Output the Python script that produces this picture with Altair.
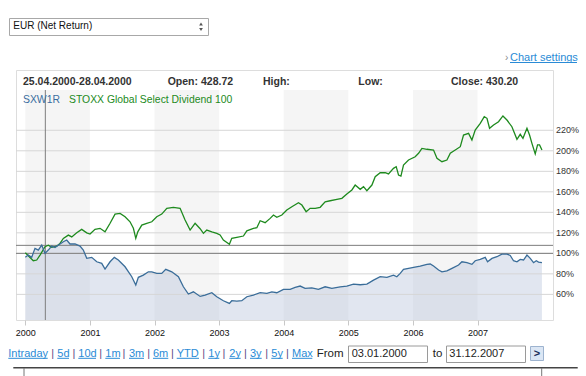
import altair as alt
import pandas as pd

FONT = "Liberation Sans"

# ---------------- data ----------------
green_t = [2000.0, 2000.073, 2000.124, 2000.177, 2000.228, 2000.305, 2000.356, 2000.409, 2000.486, 2000.537,
           2000.589, 2000.666, 2000.719, 2000.796, 2000.873, 2000.951, 2001.002, 2001.079, 2001.157, 2001.234,
           2001.312, 2001.389, 2001.467, 2001.544, 2001.621, 2001.673, 2001.710, 2001.741, 2001.803, 2001.880,
           2001.958, 2002.035, 2002.112, 2002.190, 2002.292, 2002.396, 2002.473, 2002.551, 2002.628, 2002.706,
           2002.757, 2002.809, 2002.887, 2002.964, 2003.015, 2003.066, 2003.159, 2003.196, 2003.274, 2003.376,
           2003.429, 2003.531, 2003.584, 2003.635, 2003.712, 2003.790, 2003.841, 2003.893, 2003.971, 2004.048,
           2004.126, 2004.228, 2004.281, 2004.347, 2004.409, 2004.487, 2004.564, 2004.641, 2004.719, 2004.823,
           2004.900, 2004.977, 2005.055, 2005.106, 2005.184, 2005.235, 2005.287, 2005.365, 2005.416, 2005.493,
           2005.571, 2005.622, 2005.699, 2005.741, 2005.777, 2005.814, 2005.854, 2005.932, 2006.035, 2006.087,
           2006.139, 2006.217, 2006.319, 2006.372, 2006.449, 2006.526, 2006.578, 2006.655, 2006.733, 2006.783,
           2006.861, 2006.913, 2006.964, 2007.042, 2007.104, 2007.146, 2007.186, 2007.248, 2007.325, 2007.393,
           2007.455, 2007.532, 2007.610, 2007.661, 2007.703, 2007.765, 2007.805, 2007.842, 2007.893, 2007.929,
           2007.960, 2007.997]
green_v = [100.6, 96.0, 92.8, 93.5, 98.3, 106.4, 108.0, 105.8, 107.0, 109.7,
           114.6, 117.8, 116.0, 120.0, 123.4, 120.0, 118.8, 123.4, 124.4, 121.0,
           129.3, 138.3, 139.0, 135.7, 130.8, 124.4, 114.6, 121.0, 127.6, 129.3,
           130.8, 135.7, 138.3, 143.9, 144.9, 143.9, 132.5, 122.7, 129.3, 124.0,
           119.5, 122.7, 121.0, 119.5, 117.9, 113.0, 108.8, 114.6, 115.6, 116.9,
           122.0, 124.4, 125.0, 131.8, 129.9, 134.1, 137.4, 135.1, 137.4, 142.2,
           145.5, 149.4, 147.1, 140.6, 143.9, 143.9, 144.9, 150.3, 151.3, 152.7,
           153.7, 157.9, 161.8, 166.6, 162.4, 165.0, 161.1, 166.6, 174.7, 178.6,
           178.6, 177.4, 182.9, 184.5, 176.4, 175.4, 186.1, 191.0, 194.2, 197.6,
           202.4, 201.5, 200.8, 192.7, 189.4, 191.0, 197.6, 200.8, 204.0, 215.4,
           217.0, 210.5, 220.3, 226.8, 233.3, 231.7, 222.0, 225.2, 228.4, 234.0,
           230.0, 223.5, 211.2, 216.1, 212.2, 222.0, 215.4, 207.3, 196.9, 205.7,
           205.7, 200.8]

blue_t = [2000.0, 2000.046, 2000.099, 2000.150, 2000.201, 2000.254, 2000.305, 2000.356, 2000.409, 2000.460,
          2000.537, 2000.589, 2000.641, 2000.692, 2000.770, 2000.847, 2000.898, 2000.951, 2001.028, 2001.106,
          2001.183, 2001.234, 2001.312, 2001.378, 2001.440, 2001.544, 2001.648, 2001.710, 2001.750, 2001.827,
          2001.905, 2001.958, 2002.035, 2002.112, 2002.174, 2002.267, 2002.370, 2002.447, 2002.524, 2002.602,
          2002.706, 2002.783, 2002.887, 2002.964, 2003.066, 2003.159, 2003.196, 2003.274, 2003.351, 2003.429,
          2003.531, 2003.635, 2003.739, 2003.816, 2003.893, 2003.996, 2004.099, 2004.177, 2004.254, 2004.331,
          2004.435, 2004.537, 2004.641, 2004.745, 2004.874, 2004.977, 2005.080, 2005.184, 2005.287, 2005.390,
          2005.493, 2005.597, 2005.699, 2005.751, 2005.803, 2005.854, 2005.932, 2006.010, 2006.113, 2006.217,
          2006.268, 2006.319, 2006.397, 2006.449, 2006.526, 2006.604, 2006.706, 2006.758, 2006.836, 2006.913,
          2006.964, 2007.042, 2007.119, 2007.155, 2007.223, 2007.300, 2007.378, 2007.455, 2007.506, 2007.557,
          2007.610, 2007.661, 2007.712, 2007.765, 2007.816, 2007.867, 2007.909, 2007.944, 2007.997]
blue_v = [96.1, 98.3, 96.1, 104.9, 103.2, 108.1, 100.0, 103.2, 107.1, 105.8,
          109.1, 111.3, 113.0, 109.1, 109.1, 107.1, 103.2, 95.1, 96.1, 91.8,
          90.2, 84.7, 91.8, 96.1, 93.5, 86.9, 77.2, 69.1, 76.6, 78.8,
          82.0, 82.0, 80.5, 80.5, 84.4, 82.0, 77.2, 67.4, 60.3, 62.5,
          58.0, 59.3, 61.6, 57.7, 53.8, 51.2, 53.8, 53.5, 53.8, 57.7,
          59.3, 61.6, 61.0, 62.5, 61.6, 64.9, 64.9, 66.8, 68.1, 65.9,
          66.4, 64.9, 67.4, 65.9, 67.4, 68.1, 70.0, 69.4, 70.0, 73.9,
          77.2, 76.6, 78.8, 77.2, 80.5, 84.4, 85.4, 86.3, 87.6, 89.3,
          89.6, 87.6, 83.7, 82.0, 83.0, 85.4, 88.6, 91.8, 90.9, 89.3,
          92.8, 94.1, 96.1, 91.8, 95.1, 96.7, 99.3, 99.3, 98.0, 92.8,
          91.8, 94.1, 93.5, 98.3, 95.1, 90.9, 92.8, 91.5, 90.9]

year_ticks = [2000, 2001, 2002, 2003, 2004, 2005, 2006, 2007]
band_start = [2000, 2002, 2004, 2006]
band_end = [2001, 2003, 2005, 2007]
pct_ticks = [60, 80, 100, 120, 140, 160, 180, 200, 220]
pct_labels = ["60%", "80%", "100%", "120%", "140%", "160%", "180%", "200%", "220%"]
cross_t = 2000.31
cross_v = 107.8

header_labels = ["25.04.2000-28.04.2000", "Open: 428.72", "High:", "Low:", "Close: 430.20"]
legend_labels = ["SXW1R", "STOXX Global Select Dividend 100"]
link_labels = ["Intraday", "5d", "10d", "1m", "3m", "6m", "YTD", "1y", "2y", "3y", "5y", "Max"]
from_date = "03.01.2000"
to_date = "31.12.2007"

# ---------------- layout (pixels, relative to plot origin) ----------------
W, H = 537, 250
TOP_BAND = 20
header_x = [7, 151.7, 247, 342.3, 435]
link_x0 = [-7.7, 41.3, 62.3, 89.3, 113, 137, 160.7, 192.3, 213.3, 234, 255.3, 276]
link_x1 = [31.7, 53, 80, 104, 128, 152.3, 183, 203.3, 224.7, 245.7, 266.7, 296.3]
sep_x = [36.7, 58, 84.7, 108, 132.7, 156.3, 187.7, 208, 229.3, 250.7, 271.3]

LINK = "#2a8bd6"

x_scale = alt.Scale(domain=[1999.856, 2008.168], nice=False, zero=False)
y_scale = alt.Scale(domain=[35, 278.8], nice=False, zero=False)

green = pd.DataFrame({"t": green_t, "v": green_v})
blue = pd.DataFrame({"t": blue_t, "v": blue_v})
bands = pd.DataFrame({"t": band_start, "t2": band_end})
grid = pd.DataFrame({"v": pct_ticks, "lab": pct_labels})

x_axis = alt.Axis(values=year_ticks, format="d", title=None, grid=False, domain=False,
                  tickColor="#c8c8c8", tickSize=5, labelFontSize=9, labelColor="#111",
                  labelPadding=3, labelFont=FONT, labelOverlap=False)
y_axis = alt.Axis(orient="right", values=pct_ticks, title=None, grid=False, ticks=False,
                  domain=False, labels=False)
X = alt.X("t:Q", scale=x_scale, axis=x_axis)
Y = alt.Y("v:Q", scale=y_scale, axis=y_axis)

band_layer = alt.Chart(bands).mark_rect(color="#f5f5f5").encode(
    x=X, x2="t2:Q", y=alt.value(TOP_BAND), y2=alt.value(H))

area_layer = alt.Chart(blue).mark_area(color="#b8c4dc", opacity=0.42).encode(
    x=X, y=Y, y2=alt.datum(35))

grid_layer = alt.Chart(grid).mark_rule(color="#d6d6d6", strokeWidth=1).encode(y=Y)
ylabel_layer = alt.Chart(grid).mark_text(align="left", baseline="middle", fontSize=9, color="#333",
                                         font=FONT).encode(y=Y, x=alt.value(W + 3), text="lab:N")


def one():
    return alt.Chart(alt.Data(values=[{"k": 1}]))


hundred = one().mark_rule(color="#7d7d7d", strokeWidth=1).encode(y=alt.datum(100))
cross_h = one().mark_rule(color="#7d7d7d", strokeWidth=1).encode(y=alt.datum(cross_v))
cross_vline = one().mark_rule(color="#7d7d7d", strokeWidth=1).encode(
    x=alt.datum(cross_t), y=alt.value(TOP_BAND), y2=alt.value(H))

green_layer = alt.Chart(green).mark_line(color="#1e8a1e", strokeWidth=1.3).encode(x=X, y=Y)
blue_layer = alt.Chart(blue).mark_line(color="#3a6d99", strokeWidth=1.3).encode(x=X, y=Y)


def text(x, y, s, size=11, color="#333", weight="normal", align="left", baseline="alphabetic"):
    return one().mark_text(text=s, fontSize=size, color=color, fontWeight=weight, align=align,
                           baseline=baseline, font=FONT).encode(x=alt.value(x), y=alt.value(y))


def box(x, x2, y, y2, fill, stroke):
    return one().mark_rect(fill=fill, stroke=stroke, strokeWidth=1).encode(
        x=alt.value(x), x2=alt.value(x2), y=alt.value(y), y2=alt.value(y2))


def hline(x, x2, y, color, w=1):
    return one().mark_rule(color=color, strokeWidth=w).encode(
        x=alt.value(x), x2=alt.value(x2), y=alt.value(y))


def vline(x, y, y2, color, w=1):
    return one().mark_rule(color=color, strokeWidth=w).encode(
        x=alt.value(x), y=alt.value(y), y2=alt.value(y2))


ui = []
# dropdown
ui.append(box(-6.5, 192.5, -51.5, -34.5, "#ffffff", "#a8a8a8"))
ui.append(text(-2.7, -40.7, "EUR (Net Return)", size=10, color="#111"))
ui.append(one().mark_point(shape="triangle-up", filled=True, size=14, color="#555", opacity=1).encode(
    x=alt.value(185), y=alt.value(-46)))
ui.append(one().mark_point(shape="triangle-down", filled=True, size=14, color="#555", opacity=1).encode(
    x=alt.value(185), y=alt.value(-40.5)))
# chart settings
ui.append(text(489, -9.3, "›", size=10, color="#888"))
ui.append(text(494, -9.3, "Chart settings", size=11, color=LINK))
ui.append(hline(494, 561, -7.5, LINK))
# header
for i, s in enumerate(header_labels):
    ui.append(text(header_x[i], 15, s, size=10.5, color="#333", weight="bold"))
# legend
ui.append(text(7, 32.5, legend_labels[0], size=10.4, color="#3a6d9f"))
ui.append(text(53, 32.5, legend_labels[1], size=10.4, color="#228a22"))
# bottom links
for i, s in enumerate(link_labels):
    ui.append(text(link_x0[i], 286.7, s, size=11, color=LINK))
    ui.append(hline(link_x0[i], link_x1[i], 288.3, LINK))
for sx in sep_x:
    ui.append(text(sx, 286.7, "|", size=11, color="#5b4a86", align="center"))
ui.append(text(300.7, 287, "From", size=11.5, color="#222"))
ui.append(box(332.5, 411.5, 276, 292.5, "#ffffff", "#9a9a9a"))
ui.append(text(335.7, 286.7, from_date, size=11, color="#222"))
ui.append(text(416.7, 287, "to", size=11.5, color="#222"))
ui.append(box(430.5, 509.5, 276, 292.5, "#ffffff", "#9a9a9a"))
ui.append(text(433.3, 286.7, to_date, size=11, color="#222"))
ui.append(box(514.5, 527.5, 276.5, 290.5, "#dbe6f4", "#9db3cf"))
ui.append(text(521, 283.5, ">", size=11, color="#1a2e5a", weight="bold", align="center", baseline="middle"))
# slider line
ui.append(hline(-2.7, 561.7, 297.7, "#444", 1.5))
ui.append(vline(8, 298, 306, "#777"))
ui.append(vline(525.7, 298, 306, "#777"))

chart = alt.layer(
    band_layer, area_layer, grid_layer, ylabel_layer, hundred, cross_h, cross_vline,
    green_layer, blue_layer, *ui
).properties(
    width=W, height=H,
    autosize=alt.AutoSizeParams(type="none"),
    padding={"left": 16, "top": 70, "right": 33, "bottom": 56},
    background="white",
).configure_view(stroke="#c8c8c8", strokeWidth=1).configure(font=FONT)

chart.save("out.html", embed_options={"renderer": "svg", "actions": False})
